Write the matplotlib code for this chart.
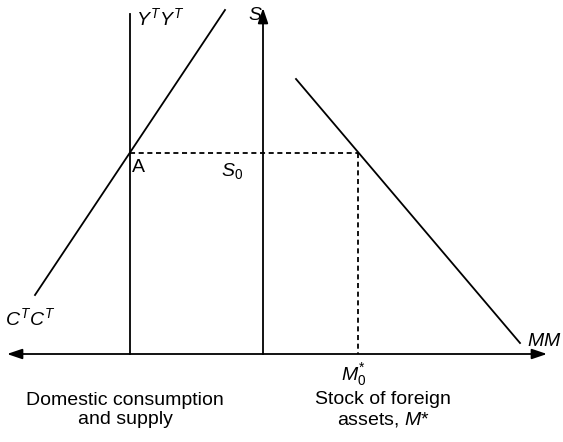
import matplotlib
matplotlib.use("Agg")
import matplotlib.pyplot as plt

plt.rcParams['font.family'] = ['Liberation Sans', 'DejaVu Sans']
plt.rcParams['mathtext.fontset'] = 'custom'
plt.rcParams['mathtext.rm'] = 'Liberation Sans'
plt.rcParams['mathtext.it'] = 'Liberation Sans:italic'

# Schematic diagram geometry (pixel-like units, y grows downward)
h_axis_x = [7, 547]
h_axis_y = 354
s_axis_x = 263
s_axis_top = 8
yy_x = 130
yy_top = 14
ct_x = [35, 225]
ct_y = [295, 10]
mm_x = [296, 520]
mm_y = [79, 343]
A_pt = (130, 153)
M0_pt = (358, 153)

fig = plt.figure(figsize=(5.63, 4.42), dpi=100)
ax = fig.add_axes([0, 0, 1, 1])
ax.set_xlim(0, 563)
ax.set_ylim(442, 0)
ax.axis('off')

lw = 1.3
arrow = dict(arrowstyle='-|>,head_length=0.65,head_width=0.22', lw=lw, color='black',
             mutation_scale=14, shrinkA=0, shrinkB=0)
# horizontal double arrow axis
ax.annotate('', xy=(h_axis_x[0], h_axis_y), xytext=(s_axis_x, h_axis_y), arrowprops=arrow)
ax.annotate('', xy=(h_axis_x[1], h_axis_y), xytext=(s_axis_x, h_axis_y), arrowprops=arrow)
# S axis
ax.annotate('', xy=(s_axis_x, s_axis_top), xytext=(s_axis_x, h_axis_y), arrowprops=arrow)
# YTYT vertical
ax.plot([yy_x, yy_x], [yy_top, h_axis_y], color='black', lw=lw)
# CTCT
ax.plot(ct_x, ct_y, color='black', lw=lw)
# MM
ax.plot(mm_x, mm_y, color='black', lw=lw)
# dashed lines
dash = (0, (2.8, 2.0))
ax.plot([A_pt[0], M0_pt[0]], [A_pt[1], M0_pt[1]], color='black', lw=lw, ls=dash)
ax.plot([M0_pt[0], M0_pt[0]], [M0_pt[1], h_axis_y], color='black', lw=lw, ls=dash)

fs = 14
ax.text(136, 18, r'$\mathit{Y}^{\mathit{T}}\mathit{Y}^{\mathit{T}}$', fontsize=fs, ha='left', va='center')
ax.text(248, 16, r'$\mathit{S}$', fontsize=fs, ha='left', va='center')
ax.text(132, 168, 'A', fontsize=fs, ha='left', va='center')
ax.text(221, 171, r'$\mathit{S}_0$', fontsize=fs, ha='left', va='center')
ax.text(5, 318, r'$\mathit{C}^{\mathit{T}}\mathit{C}^{\mathit{T}}$', fontsize=fs, ha='left', va='center')
ax.text(527, 342, r'$\mathit{MM}$', fontsize=fs, ha='left', va='center')
ax.text(341, 375, r'$\mathit{M}_0^{*}$', fontsize=fs, ha='left', va='center')
ax.text(125, 410, 'Domestic consumption\nand supply', fontsize=fs, ha='center', va='center', linespacing=1.1)
ax.text(383, 410, 'Stock of foreign\nassets, $\\mathit{M}$*', fontsize=fs, ha='center', va='center', linespacing=1.1)

fig.savefig('out.png', dpi=100)
